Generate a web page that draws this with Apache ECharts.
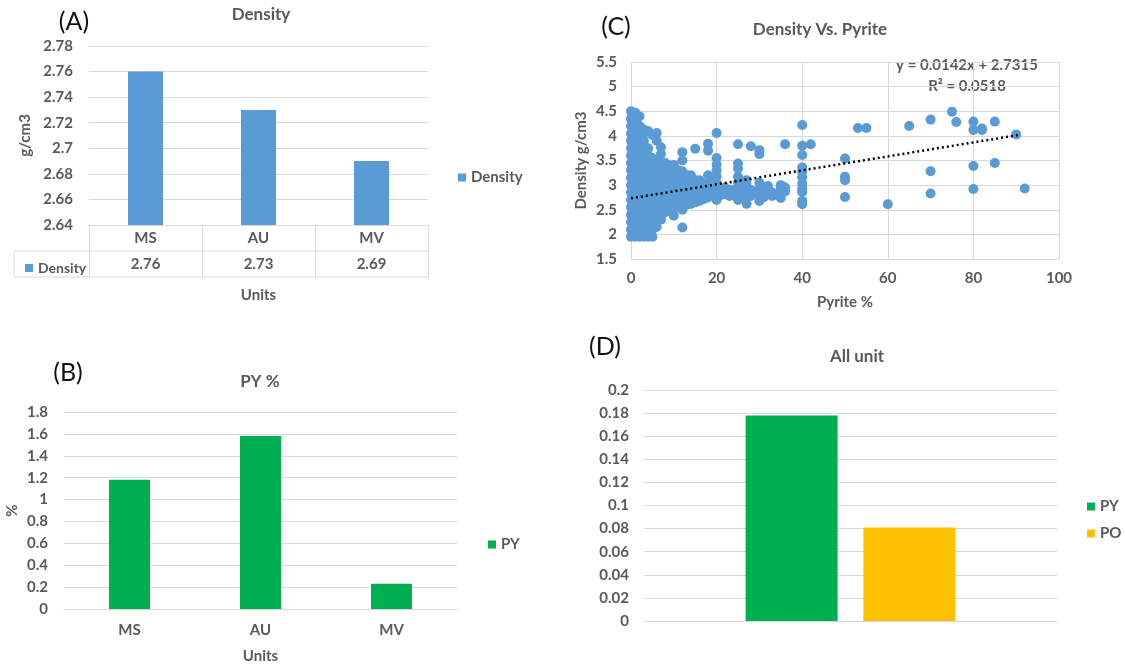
<!DOCTYPE html>
<html><head><meta charset="utf-8">
<script src="https://cdn.jsdelivr.net/npm/echarts@6/dist/echarts.min.js"></script>
<style>html,body{margin:0;padding:0;background:#fff}#c{width:1125px;height:666px}</style>
</head><body><div id="c"></div>
<script>
// ---------- data ----------
const units = ['MS', 'AU', 'MV'];
const densityVals = [2.76, 2.73, 2.69];
const pyVals = [1.18, 1.58, 0.23];
const allUnitPY = [0.178];
const allUnitPO = [0.081];
const trendSlope = 0.0142;
const trendIntercept = 2.7315;
const trendXRange = [0, 91];
const trendLabel1 = 'y = 0.0142x + 2.7315';
const trendLabel2 = 'R² = 0.0518';
// scatter points: [pyrite %, [density values ...]]
const pyriteColumns = [
  [0, [1.95, 2.1, 2.25, 2.4, 2.55, 2.7, 2.85, 3.0, 3.15, 3.3, 3.45, 3.6, 3.75, 3.9, 4.05, 4.2, 4.35, 4.5]],
  [1, [1.95, 2.1, 2.25, 2.4, 2.55, 2.7, 2.85, 3.0, 3.15, 3.3, 3.45, 3.6, 3.75, 3.9, 4.05, 4.2, 4.35, 4.47]],
  [2, [1.95, 2.1, 2.25, 2.4, 2.55, 2.7, 2.85, 3.0, 3.15, 3.3, 3.45, 3.6, 3.75, 3.9, 4.05, 4.2, 4.4]],
  [3, [1.95, 2.1, 2.25, 2.4, 2.55, 2.7, 2.85, 3.0, 3.15, 3.3, 3.45, 3.6, 3.75, 3.9, 4.05, 4.13]],
  [4, [1.95, 2.1, 2.25, 2.4, 2.55, 2.7, 2.85, 3.0, 3.15, 3.3, 3.45, 3.6, 3.75, 4.1]],
  [5, [1.95, 2.1, 2.25, 2.4, 2.55, 2.7, 2.85, 3.0, 3.15, 3.3, 3.45, 3.55, 4.02]],
  [6, [2.15, 2.3, 2.45, 2.6, 2.75, 2.9, 3.05, 3.2, 3.35, 3.5, 3.9, 4.06]],
  [7, [2.3, 2.45, 2.6, 2.75, 2.9, 3.05, 3.2, 3.35, 3.45, 3.63, 3.77]],
  [8, [2.45, 2.6, 2.75, 2.9, 3.05, 3.2, 3.35, 3.45]],
  [9, [2.5, 2.65, 2.8, 2.95, 3.1, 3.25, 3.4]],
  [10, [2.38, 2.55, 2.7, 2.85, 3.0, 3.15, 3.3, 3.41]],
  [11, [2.55, 2.7, 2.85, 3.0, 3.15, 3.3]],
  [12, [2.14, 2.5, 2.65, 2.8, 2.95, 3.1, 3.28, 3.5, 3.67]],
  [13, [2.6, 2.75, 2.9, 3.05, 3.2]],
  [14, [2.62, 2.77, 2.92, 3.07, 3.2]],
  [15, [2.65, 2.8, 2.95, 3.1, 3.74]],
  [16, [2.68, 2.83, 2.98, 3.1]],
  [17, [2.72, 2.87, 3.02]],
  [18, [2.75, 2.9, 3.05, 3.2, 3.7, 3.84]],
  [19, [2.78, 2.93, 3.08]],
  [20, [2.7, 2.82, 2.94, 3.06, 3.18, 3.3, 3.42, 3.55, 4.06]],
  [21, [2.8, 2.92]],
  [22, [2.82, 2.95]],
  [23, [2.78, 2.9]],
  [24, [2.8, 2.9]],
  [25, [2.7, 2.82, 2.94, 3.06, 3.17, 3.34, 3.44, 3.83]],
  [26, [2.75, 2.88]],
  [27, [2.62, 2.75, 2.88, 3.0, 3.1]],
  [28, [2.78, 2.9, 3.79]],
  [30, [2.68, 2.8, 2.92, 3.05, 3.63, 3.71]],
  [31, [2.75, 2.9]],
  [32, [2.82, 2.9, 2.98]],
  [33, [2.78, 2.85]],
  [35, [2.74, 2.82, 2.92, 3.0]],
  [36, [2.87, 2.95, 3.83]],
  [40, [2.61, 2.68, 2.86, 2.93, 3.03, 3.16, 3.27, 3.36, 3.61, 3.8, 4.22]],
  [42, [3.83]],
  [50, [2.76, 3.1, 3.17, 3.54]],
  [53, [4.16]],
  [55, [4.16]],
  [60, [2.61]],
  [65, [4.2]],
  [70, [2.83, 3.28, 4.33]],
  [75, [4.49]],
  [76, [4.28]],
  [80, [2.92, 3.39, 4.12, 4.29]],
  [82, [4.12, 4.15]],
  [85, [3.45, 4.29]],
  [90, [4.03]],
  [92, [2.93]]
];
const scatterData = pyriteColumns.flatMap(([x, ys]) => ys.map(y => [x, y]));
const trendData = trendXRange.map(x => [x, +(trendIntercept + trendSlope * x).toFixed(4)]);

// ---------- style ----------
const FONT = 'Lato, "Open Sans", sans-serif';
const GRAY = '#595959';
const GRID = '#d9d9d9';
const BLUE = '#5b9bd5', GREEN = '#00b050', GOLD = '#ffc000';
const lbl = (sz) => ({ color: GRAY, fontFamily: FONT, fontWeight: 'bold', fontSize: sz });

const chart = echarts.init(document.getElementById('c'));
const txt = (x, y, text, size, weight, color, align) => ({
  type: 'text', x, y, silent: true,
  style: { text, fontSize: size, fontFamily: FONT, fontWeight: weight, fill: color,
           align: align || 'center', verticalAlign: 'middle' }
});
const hline = (x1, x2, y) => ({ type: 'line', silent: true, shape: { x1, y1: y, x2, y2: y }, style: { stroke: GRID, lineWidth: 1 } });
const vline = (x, y1, y2) => ({ type: 'line', silent: true, shape: { x1: x, y1, x2: x, y2 }, style: { stroke: GRID, lineWidth: 1 } });

chart.setOption({
  animation: false,
  backgroundColor: '#fff',
  grid: [
    { left: 89, top: 46, width: 339, height: 179 },
    { left: 64, top: 412, width: 393, height: 197 },
    { left: 631, top: 62, width: 428, height: 197 },
    { left: 644, top: 390, width: 413, height: 231 }
  ],
  xAxis: [
    { type: 'category', gridIndex: 0, data: units,
      axisLine: { lineStyle: { color: GRID } },
      axisTick: { show: true, length: 52, interval: 0, lineStyle: { color: GRID } },
      axisLabel: { margin: 0, interval: 0,
        formatter: (v, i) => '{a|' + v + '}\n{a|' + densityVals[i] + '}',
        rich: { a: { lineHeight: 26, ...lbl(15) } } },
      name: 'Units', nameLocation: 'middle', nameGap: 63, nameTextStyle: lbl(15) },
    { type: 'category', gridIndex: 1, data: units,
      axisLine: { lineStyle: { color: GRID } }, axisTick: { show: false },
      axisLabel: { margin: 14, ...lbl(15) },
      name: 'Units', nameLocation: 'middle', nameGap: 40, nameTextStyle: lbl(15) },
    { type: 'value', gridIndex: 2, min: 0, max: 100, interval: 20,
      axisLine: { show: false }, axisTick: { show: false },
      splitLine: { show: true, lineStyle: { color: GRID } },
      axisLabel: { margin: 12, ...lbl(15) },
      name: 'Pyrite %', nameLocation: 'middle', nameGap: 36, nameTextStyle: lbl(15) },
    { type: 'category', gridIndex: 3, data: [''],
      axisLine: { lineStyle: { color: GRID } }, axisTick: { show: false }, axisLabel: { show: false } }
  ],
  yAxis: [
    { type: 'value', gridIndex: 0, min: 2.64, max: 2.78, interval: 0.02,
      axisLine: { show: false }, axisTick: { show: false },
      splitLine: { lineStyle: { color: GRID } },
      axisLabel: { margin: 16, ...lbl(15) },
      name: 'g/cm3', nameLocation: 'middle', nameGap: 56, nameRotate: 90, nameTextStyle: lbl(15) },
    { type: 'value', gridIndex: 1, min: 0, max: 1.8, interval: 0.2,
      axisLine: { show: false }, axisTick: { show: false },
      splitLine: { lineStyle: { color: GRID } },
      axisLabel: { margin: 16, ...lbl(15) },
      name: '%', nameLocation: 'middle', nameGap: 44, nameRotate: 90, nameTextStyle: lbl(15) },
    { type: 'value', gridIndex: 2, min: 1.5, max: 5.5, interval: 0.5,
      axisLine: { show: false }, axisTick: { show: false },
      splitLine: { lineStyle: { color: GRID } },
      axisLabel: { margin: 14, ...lbl(15) },
      name: 'Density g/cm3', nameLocation: 'middle', nameGap: 42, nameRotate: 90, nameTextStyle: lbl(15) },
    { type: 'value', gridIndex: 3, min: 0, max: 0.2, interval: 0.02,
      axisLine: { show: false }, axisTick: { show: false },
      splitLine: { lineStyle: { color: GRID } },
      axisLabel: { margin: 15, ...lbl(15) } }
  ],
  legend: [
    { data: ['Density'], left: 453, top: 165, orient: 'vertical', icon: 'rect', itemWidth: 8, itemHeight: 8, textStyle: lbl(15), selectedMode: false },
    { data: ['Density'], left: 20, top: 256, icon: 'rect', itemWidth: 8, itemHeight: 8, textStyle: lbl(14), selectedMode: false },
    { data: ['PY'], left: 483, top: 532, icon: 'rect', itemWidth: 8, itemHeight: 8, textStyle: lbl(15), selectedMode: false },
    { data: ['PY', 'PO'], left: 1082, top: 494, orient: 'vertical', itemGap: 12, icon: 'rect', itemWidth: 8, itemHeight: 8, textStyle: lbl(15), selectedMode: false }
  ],
  series: [
    { name: 'Density', type: 'bar', xAxisIndex: 0, yAxisIndex: 0, data: densityVals, barWidth: 35, itemStyle: { color: BLUE } },
    { name: 'PY', type: 'bar', xAxisIndex: 1, yAxisIndex: 1, data: pyVals, barWidth: 41, itemStyle: { color: GREEN } },
    { name: 'Density vs Pyrite', type: 'scatter', xAxisIndex: 2, yAxisIndex: 2, data: scatterData, symbolSize: 10, itemStyle: { color: BLUE, opacity: 1 } },
    { name: 'Linear trend', type: 'line', xAxisIndex: 2, yAxisIndex: 2, data: trendData, symbol: 'none', z: 5,
      lineStyle: { color: '#000', width: 2.5, type: [2, 3] } },
    { name: 'PY', type: 'bar', xAxisIndex: 3, yAxisIndex: 3, data: allUnitPY, barWidth: 92, barGap: '28%', itemStyle: { color: GREEN } },
    { name: 'PO', type: 'bar', xAxisIndex: 3, yAxisIndex: 3, data: allUnitPO, barWidth: 92, itemStyle: { color: GOLD } }
  ],
  graphic: [
    txt(74, 22, '(A)', 25, 'normal', '#111'),
    txt(261, 15, 'Density', 17, 'bold', GRAY),
    txt(68, 373, '(B)', 25, 'normal', '#111'),
    txt(260, 382, 'PY %', 17, 'bold', GRAY),
    txt(616, 27, '(C)', 25, 'normal', '#111'),
    txt(820, 30, 'Density Vs. Pyrite', 17, 'bold', GRAY),
    txt(967, 65, trendLabel1, 15, 'bold', GRAY),
    txt(967, 86, trendLabel2, 15, 'bold', GRAY),
    txt(605, 347, '(D)', 25, 'normal', '#111'),
    txt(857, 357, 'All unit', 17, 'bold', GRAY),
    hline(14, 428, 251), hline(14, 428, 277), vline(14, 251, 277)
  ]
});
</script></body></html>
